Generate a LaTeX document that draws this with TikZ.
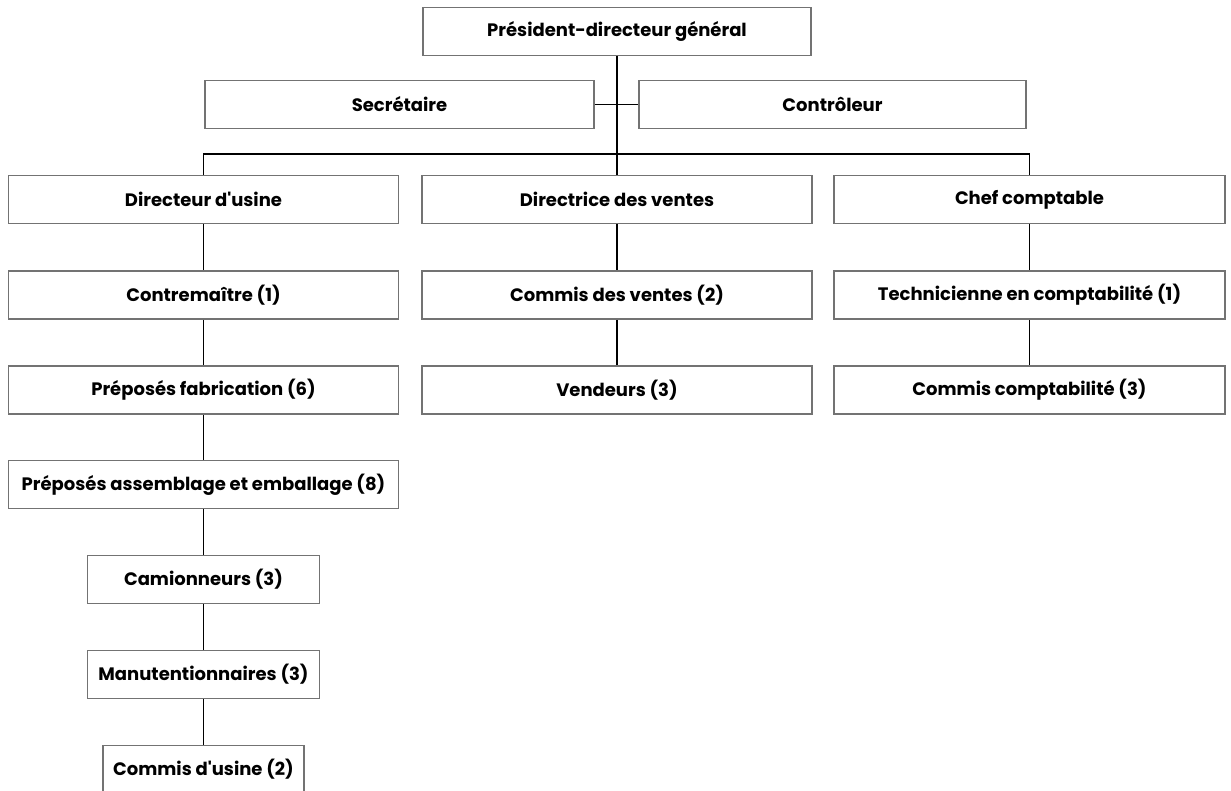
\documentclass[tikz,border=0pt]{standalone}
\usepackage{fontspec}
\newfontfamily\boxfont{Poppins}
\begin{document}
\begin{tikzpicture}[x=1pt,y=-1pt,
  box/.style={draw=gray!90!black,line width=1.6pt,fill=white,minimum height=48pt,inner sep=0pt,
    font=\boxfont\fontsize{18}{20}\selectfont\bfseries,anchor=center},
  link/.style={draw=black,line width=1.4pt}]
\useasboundingbox (0,0) rectangle (1231,791);
\clip (0,0) rectangle (1231,791);
\coordinate (bus) at (617,154);
\node[box,minimum width=388pt] (pdg) at (617,31.5) {Président-directeur général};
\node[box,minimum width=389pt] (sec) at (399.5,104.5) {Secrétaire};
\node[box,minimum width=387pt] (con) at (832.5,104.5) {Contrôleur};
\node[box,minimum width=390pt] (du) at (203.5,199.5) {Directeur d'usine};
\node[box,minimum width=390pt] (dv) at (617,199.5) {Directrice des ventes};
\node[box,minimum width=391pt] (cc) at (1029.5,199.5) {Chef comptable};
\node[box,minimum width=390pt] (ct) at (203.5,295) {Contremaître (1)};
\node[box,minimum width=390pt] (cv) at (617,295) {Commis des ventes (2)};
\node[box,minimum width=391pt] (tc) at (1029.5,295) {Technicienne en comptabilité (1)};
\node[box,minimum width=390pt] (pf) at (203.5,390) {Préposés fabrication (6)};
\node[box,minimum width=390pt] (ve) at (617,390) {Vendeurs (3)};
\node[box,minimum width=391pt] (ccp) at (1029.5,390) {Commis comptabilité (3)};
\node[box,minimum width=390pt] (pa) at (203.5,484.5) {Préposés assemblage et emballage (8)};
\node[box,minimum width=232pt] (ca) at (203.5,579.5) {Camionneurs (3)};
\node[box,minimum width=232pt] (ma) at (203.5,674.5) {Manutentionnaires (3)};
\node[box,minimum width=201pt] (cu) at (203.5,769.5) {Commis d'usine (2)};
\draw[link] (pdg.south) -- (dv.north);
\draw[link] (sec.east) -- (con.west);
\draw[link] (du.north) |- (bus) -| (cc.north);
\draw[link] (du.south) -- (ct.north);
\draw[link] (ct.south) -- (pf.north);
\draw[link] (pf.south) -- (pa.north);
\draw[link] (pa.south) -- (ca.north);
\draw[link] (ca.south) -- (ma.north);
\draw[link] (ma.south) -- (cu.north);
\draw[link] (dv.south) -- (cv.north);
\draw[link] (cv.south) -- (ve.north);
\draw[link] (cc.south) -- (tc.north);
\draw[link] (tc.south) -- (ccp.north);
\end{tikzpicture}
\end{document}
